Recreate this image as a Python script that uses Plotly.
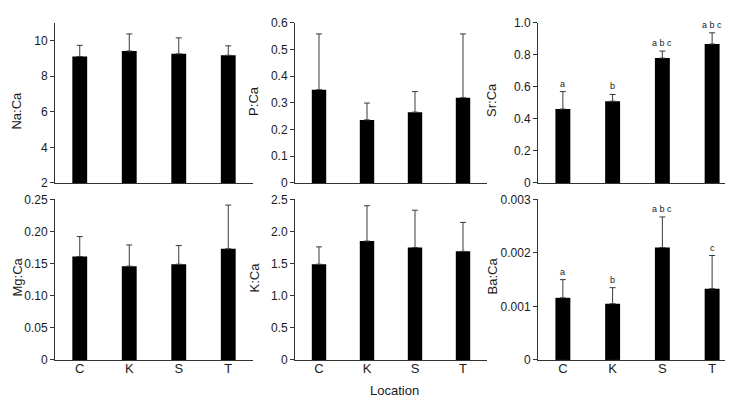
import plotly.graph_objects as go
from plotly.subplots import make_subplots

locations = ["C", "K", "S", "T"]

na_ca = [9.10, 9.41, 9.25, 9.17]
na_ca_err = [0.63, 0.96, 0.90, 0.53]
p_ca = [0.349, 0.236, 0.265, 0.319]
p_ca_err = [0.209, 0.063, 0.077, 0.239]
sr_ca = [0.461, 0.510, 0.779, 0.867]
sr_ca_err = [0.109, 0.042, 0.044, 0.070]
mg_ca = [0.161, 0.146, 0.149, 0.173]
mg_ca_err = [0.031, 0.033, 0.029, 0.068]
k_ca = [1.49, 1.85, 1.75, 1.69]
k_ca_err = [0.27, 0.55, 0.58, 0.45]
ba_ca = [0.00116, 0.00105, 0.00210, 0.00133]
ba_ca_err = [0.00034, 0.00030, 0.00057, 0.00062]

sr_letters = ["a", "b", "a b c", "a b c"]
ba_letters = ["a", "b", "a b c", "c"]

na_ticks = [2, 4, 6, 8, 10]
na_ticktext = ["2", "4", "6", "8", "10"]
p_ticks = [0, 0.1, 0.2, 0.3, 0.4, 0.5, 0.6]
p_ticktext = ["0", "0.1", "0.2", "0.3", "0.4", "0.5", "0.6"]
sr_ticks = [0, 0.2, 0.4, 0.6, 0.8, 1.0]
sr_ticktext = ["0", "0.2", "0.4", "0.6", "0.8", "1.0"]
mg_ticks = [0, 0.05, 0.10, 0.15, 0.20, 0.25]
mg_ticktext = ["0", "0.05", "0.10", "0.15", "0.20", "0.25"]
k_ticks = [0, 0.5, 1.0, 1.5, 2.0, 2.5]
k_ticktext = ["0", "0.5", "1.0", "1.5", "2.0", "2.5"]
ba_ticks = [0, 0.001, 0.002, 0.003]
ba_ticktext = ["0", "0.001", "0.002", "0.003"]

W, H = 733, 399
FONT = "Arial, Liberation Sans, sans-serif"

panels = [
    (1, 1, na_ca, na_ca_err, "Na:Ca", [2, 11], na_ticks, na_ticktext, (9, 99)),
    (1, 2, p_ca, p_ca_err, "P:Ca", [0, 0.6], p_ticks, p_ticktext, (246, 89)),
    (1, 3, sr_ca, sr_ca_err, "Sr:Ca", [0, 1.0], sr_ticks, sr_ticktext, (484, 88)),
    (2, 1, mg_ca, mg_ca_err, "Mg:Ca", [0, 0.25], mg_ticks, mg_ticktext, (9, 272)),
    (2, 2, k_ca, k_ca_err, "K:Ca", [0, 2.5], k_ticks, k_ticktext, (246, 272)),
    (2, 3, ba_ca, ba_ca_err, "Ba:Ca", [0, 0.003], ba_ticks, ba_ticktext, (484, 271)),
]

col_px = {1: (47, 245), 2: (287, 479), 3: (530, 729)}
row_px = {1: (8, 174), 2: (191, 357.5)}

fig = make_subplots(rows=2, cols=3)

annotations = []
for (r, c, vals, errs, title, rng, tv, tt, tpos) in panels:
    fig.add_trace(
        go.Bar(
            x=locations, y=vals, width=0.3,
            marker=dict(color="black", line=dict(width=0)),
            error_y=dict(type="data", symmetric=False, array=errs,
                         arrayminus=[0] * len(errs),
                         color="#3a3a3a", thickness=1, width=3),
            showlegend=False,
        ),
        row=r, col=c,
    )
    idx = (r - 1) * 3 + c
    xa = "xaxis" if idx == 1 else f"xaxis{idx}"
    ya = "yaxis" if idx == 1 else f"yaxis{idx}"
    x0, x1 = col_px[c]
    y0, y1 = row_px[r]
    fig.layout[xa].update(
        domain=[x0 / W, x1 / W],
        showline=True, linecolor="#333333", linewidth=1,
        ticks="", showgrid=False, zeroline=False,
        showticklabels=(r == 2), ticklabelstandoff=-4,
        tickfont=dict(family=FONT, size=13, color="#1a1a1a"),
    )
    fig.layout[ya].update(
        domain=[1 - y1 / H, 1 - y0 / H],
        range=rng, tickvals=tv, ticktext=tt,
        showline=True, linecolor="#333333", linewidth=1,
        ticks="outside", ticklen=4, tickcolor="#333333",
        showgrid=False, zeroline=False,
        tickfont=dict(family=FONT, size=12, color="#1a1a1a"),
    )
    annotations.append(dict(
        text=title, x=tpos[0] / W, y=1 - tpos[1] / H, xref="paper", yref="paper",
        textangle=-90, showarrow=False, xanchor="center", yanchor="middle",
        font=dict(family=FONT, size=13, color="#1a1a1a"),
    ))

for letters, vals, errs, ax in [(sr_letters, sr_ca, sr_ca_err, 3), (ba_letters, ba_ca, ba_ca_err, 6)]:
    for loc, lt, v, e in zip(locations, letters, vals, errs):
        annotations.append(dict(
            text=lt, x=loc, y=v + e, xref=f"x{ax}", yref=f"y{ax}",
            showarrow=False, yanchor="bottom", xanchor="center", yshift=1,
            font=dict(family=FONT, size=9, color="#1a1a1a"),
        ))

annotations.append(dict(
    text="Location", x=386 / W, y=1 - 389 / H, xref="paper", yref="paper",
    showarrow=False, xanchor="center", yanchor="middle",
    font=dict(family=FONT, size=13, color="#1a1a1a"),
))

fig.update_layout(
    width=W, height=H,
    margin=dict(l=0, r=0, t=0, b=0),
    paper_bgcolor="white", plot_bgcolor="white",
    annotations=annotations,
    bargap=0.7,
)

fig.write_html("out.html")
